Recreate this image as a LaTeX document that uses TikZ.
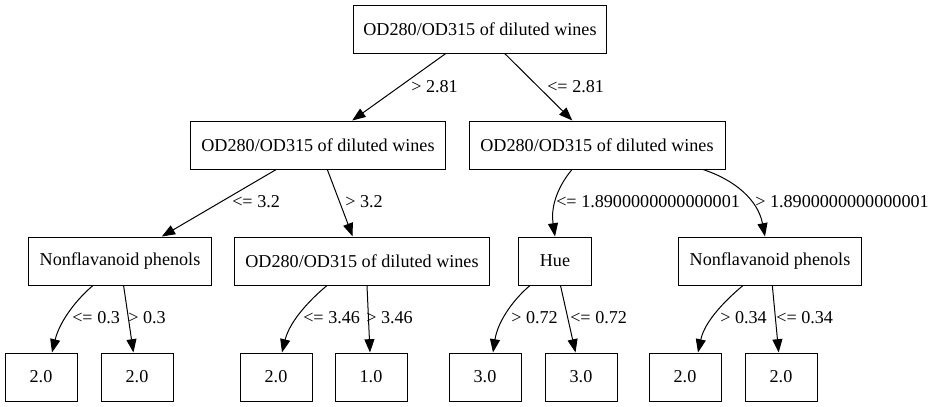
\documentclass[tikz,border=0pt]{standalone}
\usepackage{fontspec}
\setmainfont{Liberation Serif}
\usetikzlibrary{arrows.meta,calc}
\begin{document}
\begin{tikzpicture}[x=0.75pt,y=-0.75pt,
  every node/.style={font=\fontsize{13.6}{16}\selectfont},
  box/.style={draw,line width=0.75pt,rectangle,inner sep=0pt,minimum height=36pt},
  leaf/.style={box,minimum width=54pt},
  lbl/.style={anchor=west,inner sep=0pt},
  edge/.style={line width=0.75pt,-{Triangle[length=10pt,width=7.5pt]}}]
\useasboundingbox (0,0) rectangle (936,407);
% internal nodes
\node[box,minimum width=190pt] (root) at (480,29) {OD280/OD315 of diluted wines};
\node[box,minimum width=191pt] (n1) at (318,145) {OD280/OD315 of diluted wines};
\node[box,minimum width=192pt] (n2) at (597,145) {OD280/OD315 of diluted wines};
\node[box,minimum width=137pt] (n3) at (120,261) {Nonflavanoid phenols};
\node[box,minimum width=191pt] (n4) at (362,261) {OD280/OD315 of diluted wines};
\node[box,minimum width=55pt] (n5) at (555,261) {Hue};
\node[box,minimum width=137pt] (n6) at (770,261) {Nonflavanoid phenols};
% leaves
\node[leaf] (l1) at (41,377) {2.0};
\node[leaf] (l2) at (137,377) {2.0};
\node[leaf] (l3) at (276,377) {2.0};
\node[leaf] (l4) at (371,377) {1.0};
\node[leaf] (l5) at (485,377) {3.0};
\node[leaf] (l6) at (581,377) {3.0};
\node[leaf] (l7) at (685,377) {2.0};
\node[leaf] (l8) at (781,377) {2.0};
% edges
\draw[edge] (root) -- (n1);
\draw[edge] (root) -- (n2);
\draw[edge] (n1) -- (n3);
\draw[edge] (n1) -- (n4);
\draw[edge] ($(n2.south)+(-25,0)$) .. controls (555,190) and (551,210) .. (n5.north);
\draw[edge] ($(n2.south)+(106,0)$) .. controls (735,180) and (758,200) .. ($(n6.north)+(-5,0)$);
\draw[edge] ($(n3.south)+(-27,0)$) .. controls (78,298) and (60,320) .. ($(l1.north)+(11,0)$);
\draw[edge] (n3) -- (l2);
\draw[edge] ($(n4.south)+(-35,0)$) .. controls (312,298) and (290,320) .. ($(l3.north)+(6,0)$);
\draw[edge] ($(n4.south)+(5,0)$) -- ($(l4.north)+(-1,0)$);
\draw[edge] ($(n5.south)+(-25,0)$) .. controls (515,298) and (498,320) .. ($(l5.north)+(8,0)$);
\draw[edge] (n5) -- (l6);
\draw[edge] ($(n6.south)+(-27,0)$) .. controls (728,298) and (705,320) .. ($(l7.north)+(13,0)$);
\draw[edge] (n6) -- (l8);
% labels
\node[lbl] (e1) at (411,87) {> 2.81};
\node[lbl] (e2) at (547,87) {<= 2.81};
\node[lbl] (e3) at (232,202) {<= 3.2};
\node[lbl] (e4) at (345,202) {> 3.2};
\node[lbl] (e5) at (556,202) {<= 1.8900000000000001};
\node[lbl] (e6) at (755,202) {> 1.8900000000000001};
\node[lbl] (e7) at (72,318) {<= 0.3};
\node[lbl] (e8) at (128,318) {> 0.3};
\node[lbl] (e9) at (303,318) {<= 3.46};
\node[lbl] (e10) at (366,318) {> 3.46};
\node[lbl] (e11) at (511,318) {> 0.72};
\node[lbl] (e12) at (570,318) {<= 0.72};
\node[lbl] (e13) at (720,318) {> 0.34};
\node[lbl] (e14) at (776,318) {<= 0.34};
\end{tikzpicture}
\end{document}
